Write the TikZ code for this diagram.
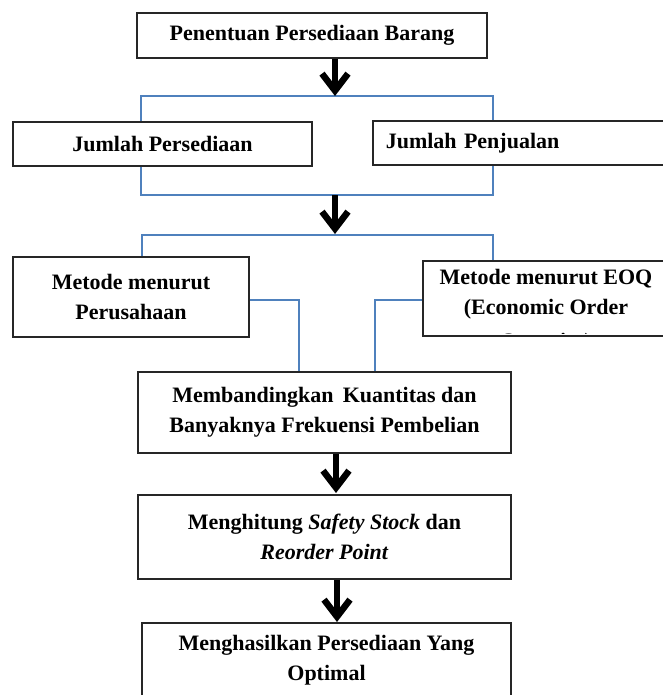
\documentclass[tikz,border=0pt]{standalone}
\usepackage{fontspec}
\setmainfont{Liberation Serif}
\usetikzlibrary{arrows.meta}
\definecolor{lnblue}{RGB}{79,129,189}
\begin{document}
\begin{tikzpicture}[x=1pt,y=-1pt,
  box/.style={draw=black!85, line width=1.6pt, inner sep=0pt, align=center,
    font=\bfseries\fontsize{22}{30}\selectfont},
  txt/.style={inner sep=0pt, align=center, font=\bfseries\fontsize{22}{30}\selectfont},
  bline/.style={draw=lnblue, line width=1.5pt},
  bigarrow/.style={line width=6.5pt, -{Straight Barb[length=17pt,width=26pt,sharp]}}]
\useasboundingbox (0,0) rectangle (662,695);

% boxes
\node[box, minimum width=350, minimum height=45] (top) at (312,35.5) {Penentuan Persediaan Barang};
\node[box, minimum width=299, minimum height=44] (jp) at (162.5,144) {Jumlah Persediaan};
\node[box, anchor=north west, inner xsep=13pt, text width=268pt, align=left, minimum height=44] (jpen) at (372,120) {Jumlah Penjualan};
\node[box, minimum width=236, minimum height=80] (mp) at (131,297) {Metode menurut\\Perusahaan};
\node[box, minimum width=246, minimum height=75] (eoq) at (546,298.5) {};
\node[txt] (eoqt) at (546,294) {Metode menurut EOQ\\(Economic Order};
\begin{scope}
  \clip (424,262) rectangle (668,333);
  \node[txt, anchor=base] (eoq3) at (546,348) {Quantity)};
\end{scope}
\node[box, minimum width=373, minimum height=81] (memb) at (324.5,412.5) {Membandingkan \,Kuantitas dan\\Banyaknya Frekuensi Pembelian};
\node[box, minimum width=373, minimum height=84] (hit) at (324.5,537) {Menghitung \textit{Safety Stock} dan\\\textit{Reorder Point}};
\node[box, minimum width=369, minimum height=74] (hasil) at (326.5,660) {Menghasilkan Persediaan Yang\\Optimal};

% coordinates
\coordinate (b1l) at (141,96);
\coordinate (b1r) at (493,96);
\coordinate (b2l) at (141,195);
\coordinate (b2r) at (493,195);
\coordinate (b3l) at (142,235);
\coordinate (b3r) at (493,235);
\coordinate (cl) at (299,300);
\coordinate (cr) at (375,300);
\coordinate (a1) at (335,96);
\coordinate (a2) at (335,234);
\coordinate (a3) at (336,493);
\coordinate (a4) at (337,622);

% blue brackets
\draw[bline] (jp.north -| b1l) -- (b1l) -- (b1r) -- (jpen.north -| b1r);
\draw[bline] (jp.south -| b2l) -- (b2l) -- (b2r) -- (jpen.south -| b2r);
\draw[bline] (mp.north -| b3l) -- (b3l) -- (b3r) -- (eoq.north -| b3r);
\draw[bline] (mp.east |- cl) -- (cl) -- (memb.north -| cl);
\draw[bline] (eoq.west |- cr) -- (cr) -- (memb.north -| cr);

% arrows
\draw[bigarrow] (top.south -| a1) -- (a1);
\draw[bigarrow] (b2l -| a2) -- (a2);
\draw[bigarrow] (memb.south -| a3) -- (a3);
\draw[bigarrow] (hit.south -| a4) -- (a4);
\end{tikzpicture}
\end{document}
